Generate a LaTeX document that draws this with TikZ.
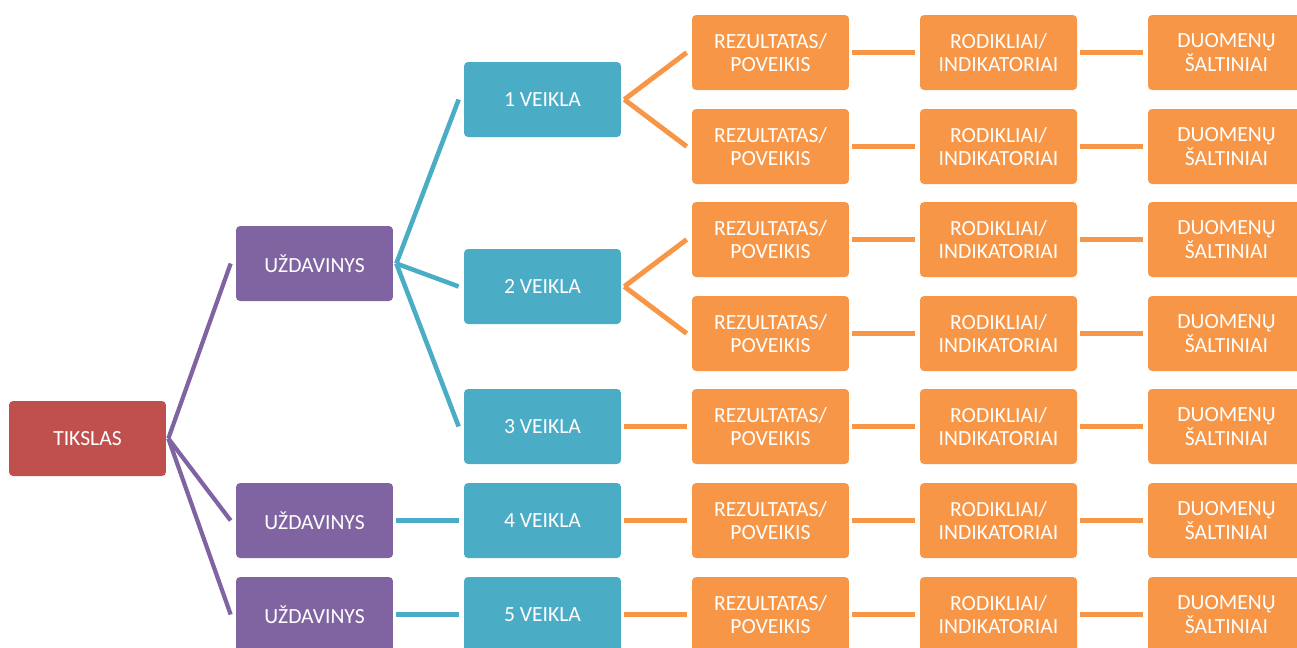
\documentclass[tikz,border=0pt]{standalone}
\usepackage{fontspec}
\setmainfont{Carlito}
\definecolor{goalred}{HTML}{C0504D}
\definecolor{taskpurple}{HTML}{8064A2}
\definecolor{actblue}{HTML}{4BACC6}
\definecolor{resorange}{HTML}{F79646}
\tikzset{
  box/.style={rectangle, rounded corners=2.3pt, minimum width=3.14cm, minimum height=1.5cm,
    inner sep=0pt, align=center, text=white, font=\fontsize{12.3}{13.3}\selectfont},
  goal/.style={box, fill=goalred},
  task/.style={box, fill=taskpurple},
  act/.style={box, fill=actblue},
  res/.style={box, fill=resorange},
  pline/.style={draw=taskpurple, line width=2.4pt},
  bline/.style={draw=actblue, line width=2.6pt},
  oline/.style={draw=resorange, line width=2.8pt},
}
\begin{document}
\begin{tikzpicture}[x=0.02cm, y=-0.02cm]
\useasboundingbox (0,0) rectangle (1297,647);
\clip (0,0) rectangle (1297,647);
% tikslas ir uzdaviniai
\node[goal] (tikslas) at (87.5,438.5) {TIKSLAS};
\node[task] (uzd1) at (314.5,263.5) {UŽDAVINYS};
\node[task] (uzd2) at (314.5,520.5) {UŽDAVINYS};
\node[task] (uzd3) at (314.5,614.5) {UŽDAVINYS};
% veiklos
\node[act] (veikla1) at (542.5,99.5) {1 VEIKLA};
\node[act] (veikla2) at (542.5,286.5) {2 VEIKLA};
\node[act] (veikla3) at (542.5,426.5) {3 VEIKLA};
\node[act] (veikla4) at (542.5,520.5) {4 VEIKLA};
\node[act] (veikla5) at (542.5,614.5) {5 VEIKLA};
% rezultatai, rodikliai, duomenys
\foreach \r/\y in {1/52.5, 2/146.5, 3/239.5, 4/333.5, 5/426.5, 6/520.5, 7/614.5} {
  \node[res] (rez\r) at (770.5,\y) {REZULTATAS/\\POVEIKIS};
  \node[res] (rod\r) at (998.5,\y) {RODIKLIAI/\\INDIKATORIAI};
  \node[res] (dm\r) at (1226.5,\y) {DUOMENŲ\\ŠALTINIAI};
  \draw[oline] ([xshift=0.06cm]rez\r.east) -- ([xshift=-0.1cm]rod\r.west);
  \draw[oline] ([xshift=0.06cm]rod\r.east) -- ([xshift=-0.1cm]dm\r.west);
}
% jungtys
\foreach \u in {uzd1, uzd2, uzd3}
  \draw[pline] ([xshift=0.04cm]tikslas.east) -- ([xshift=-0.1cm]\u.west);
\foreach \v in {veikla1, veikla2, veikla3}
  \draw[bline] ([xshift=0.06cm]uzd1.east) -- ([xshift=-0.1cm]\v.west);
\draw[bline] ([xshift=0.06cm]uzd2.east) -- ([xshift=-0.1cm]veikla4.west);
\draw[bline] ([xshift=0.06cm]uzd3.east) -- ([xshift=-0.1cm]veikla5.west);
\foreach \v/\a/\b in {veikla1/rez1/rez2, veikla2/rez3/rez4} {
  \draw[oline] ([xshift=0.06cm]\v.east) -- ([xshift=-0.1cm]\a.west);
  \draw[oline] ([xshift=0.06cm]\v.east) -- ([xshift=-0.1cm]\b.west);
}
\draw[oline] ([xshift=0.06cm]veikla3.east) -- ([xshift=-0.1cm]rez5.west);
\draw[oline] ([xshift=0.06cm]veikla4.east) -- ([xshift=-0.1cm]rez6.west);
\draw[oline] ([xshift=0.06cm]veikla5.east) -- ([xshift=-0.1cm]rez7.west);
\end{tikzpicture}
\end{document}
